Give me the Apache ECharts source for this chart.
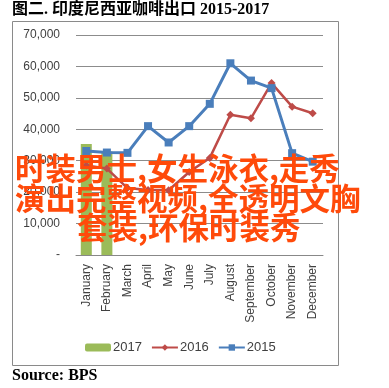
<!DOCTYPE html>
<html>
<head>
<meta charset="utf-8">
<script src="https://cdn.jsdelivr.net/npm/echarts@6/dist/echarts.min.js"></script>
<style>
html,body{margin:0;padding:0;background:#fff;}
#c{width:389px;height:388px;}
</style>
</head>
<body>
<div id="c"></div>
<script>
const months = ['January','February','March','April','May','June','July','August','September','October','November','December'];
const y2017 = [35300, 32900, null, null, null, null, null, null, null, null, null, null];
const y2016 = [28500, 27500, 21300, 20700, 20600, 26400, 30900, 44600, 43500, 54700, 47200, 45100];
const y2015 = [33100, 32600, 32500, 41000, 35800, 41000, 48100, 61000, 55500, 53100, 32400, 29700];
const yTickLabels = ['-', '10,000', '20,000', '30,000', '40,000', '50,000', '60,000', '70,000'];
const titleText = '图二. 印度尼西亚咖啡出口 2015-2017';
const sourceText = 'Source: BPS';
const overlayLines = ['时装男士,女生泳衣,走秀', '演出完整视频,全透明文胸', '套装,环保时装秀'];

const chart = echarts.init(document.getElementById('c'), null, {renderer: 'canvas'});
const axisFont = '"Liberation Sans", "DejaVu Sans", sans-serif';
const cjkBold = '"Noto Sans CJK SC", sans-serif';

chart.setOption({
  animation: false,
  backgroundColor: '#fff',
  grid: {left: 76, right: 66, top: 35, bottom: 133, containLabel: false},
  xAxis: {
    type: 'category',
    data: months,
    boundaryGap: true,
    axisLine: {show: true, lineStyle: {color: '#888', width: 1}},
    axisTick: {show: false},
    axisLabel: {rotate: 90, margin: 9, fontSize: 12, color: '#404040', fontFamily: axisFont, interval: 0}
  },
  yAxis: {
    type: 'value',
    min: 0, max: 70000, interval: 10000,
    axisLine: {show: false},
    axisTick: {show: false},
    splitLine: {show: true, lineStyle: {color: '#8c8c8c', width: 1}},
    axisLabel: {
      margin: 16, fontSize: 12, color: '#404040', fontFamily: axisFont,
      formatter: function (v) { return yTickLabels[Math.round(v / 10000)]; }
    }
  },
  legend: {
    left: 80, top: 336,
    itemWidth: 26, itemHeight: 8, itemGap: 9,
    textStyle: {fontSize: 13, color: '#404040', fontFamily: axisFont, padding: [0, 0, 0, -3]},
    data: ['2017', '2016', '2015']
  },
  series: [
    {
      name: '2017', type: 'bar', data: y2017, barWidth: 11,
      itemStyle: {color: '#9bbb59'}, z: 1
    },
    {
      name: '2016', type: 'line', data: y2016,
      symbol: 'diamond', symbolSize: 8,
      lineStyle: {color: '#be4b48', width: 2.5},
      itemStyle: {color: '#be4b48'}, z: 2
    },
    {
      name: '2015', type: 'line', data: y2015,
      symbol: 'rect', symbolSize: 8,
      lineStyle: {color: '#4a7ebb', width: 3},
      itemStyle: {color: '#4a7ebb'}, z: 3
    }
  ],
  graphic: [
    {type: 'rect', shape: {x: 12.5, y: 21.5, width: 326, height: 344}, style: {fill: 'none', stroke: '#8a8a8a', lineWidth: 1}, z: 0, silent: true},
    {type: 'text', left: 12, top: 2, style: {text: titleText, fill: '#000', font: 'bold 16px "Liberation Serif", "Noto Sans CJK SC", serif'}, z: 10},
    {type: 'text', left: 12, top: 368, style: {text: sourceText, fill: '#000', font: 'bold 16px "Liberation Serif", serif'}, z: 10},
    {type: 'text', left: 15, top: 153, style: {text: overlayLines[0], fill: '#ff4a0a', font: 'bold 30.5px ' + cjkBold}, z: 20},
    {type: 'text', left: 15, top: 183, style: {text: overlayLines[1], fill: '#ff4a0a', font: 'bold 30.5px ' + cjkBold}, z: 20},
    {type: 'text', left: 77, top: 212, style: {text: overlayLines[2], fill: '#ff4a0a', font: 'bold 30.5px ' + cjkBold}, z: 20}
  ]
});
</script>
</body>
</html>
